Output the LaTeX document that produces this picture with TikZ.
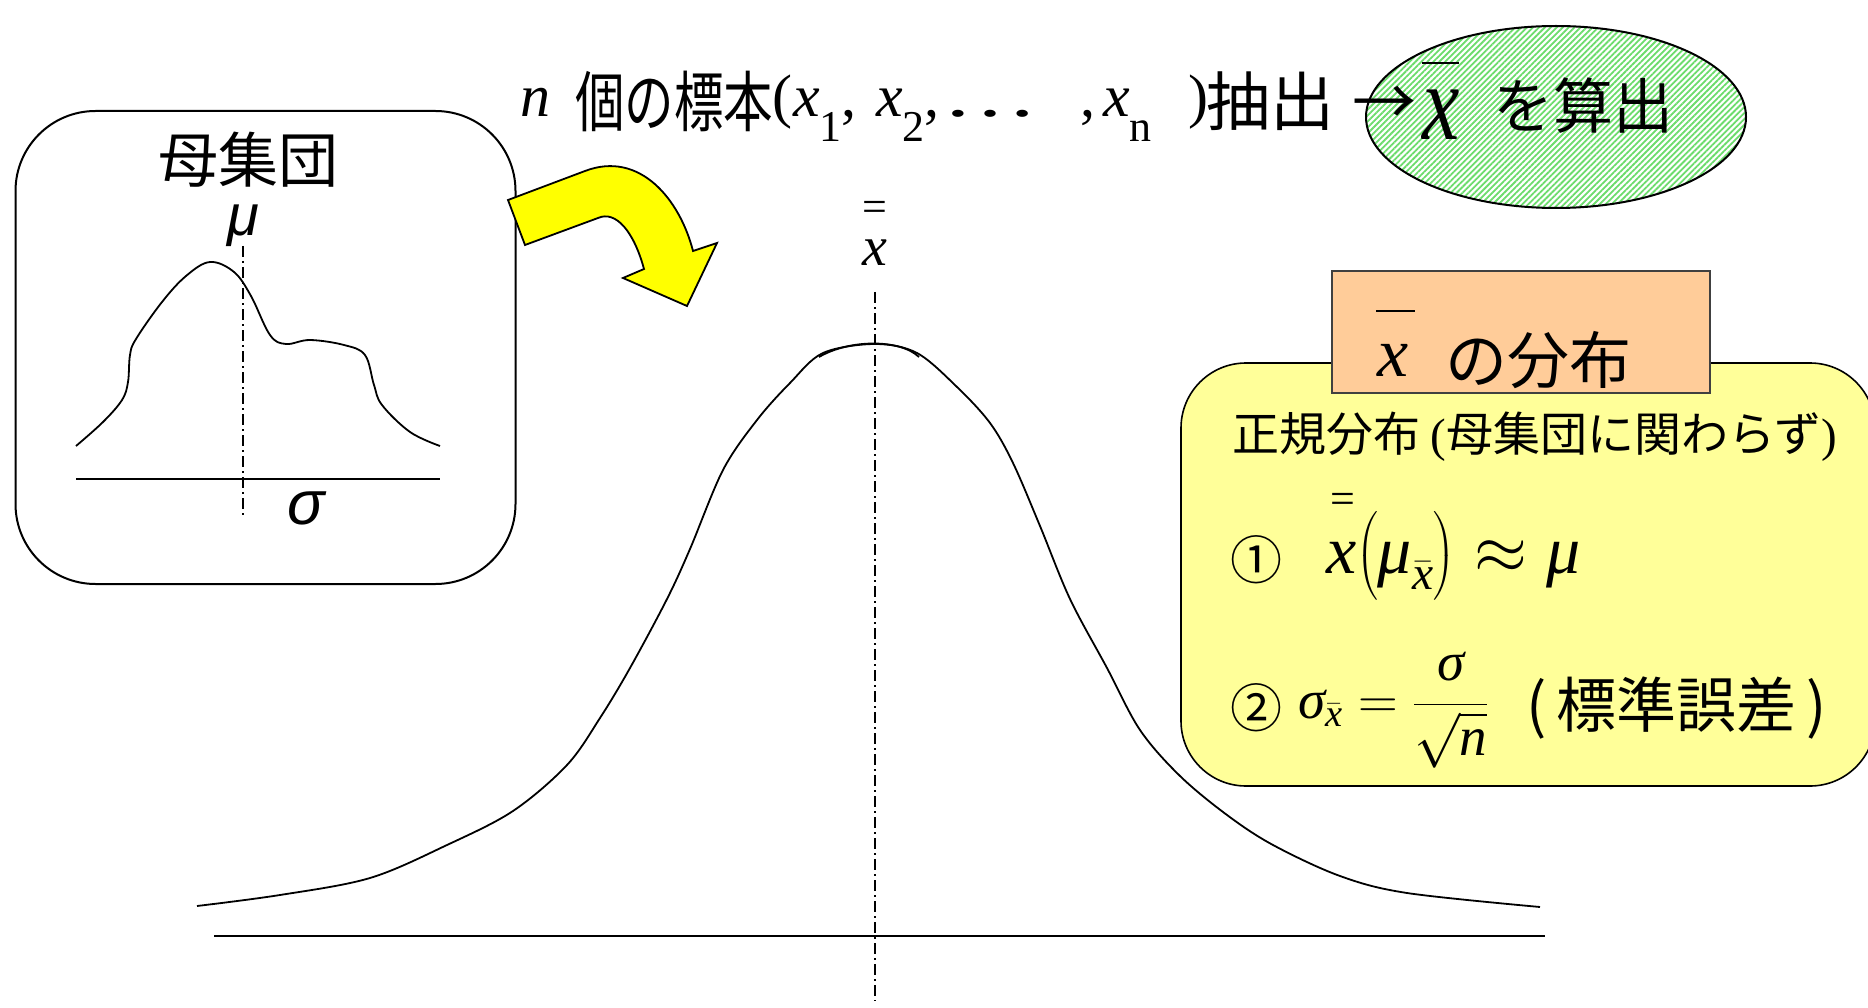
\RequirePackage{fix-cm}
\documentclass[tikz,border=0pt]{standalone}
\usepackage{amsmath}
\usepackage{graphicx}
\usepackage{fontspec}
\setmainfont{Liberation Serif}
\newfontfamily\jp{Noto Sans CJK JP}
\newfontfamily\jpc[FakeStretch=0.75]{Noto Sans CJK JP}
\newfontfamily\gr{Liberation Sans}
\usetikzlibrary{
  patterns.meta,
  positioning,
  shapes.geometric
}
\definecolor{arrowyellow}{HTML}{FFFF00}
\definecolor{notefill}{HTML}{FFFF99}
\definecolor{headfill}{HTML}{FFCC99}
\definecolor{stripe}{HTML}{6CDC6C}
\definecolor{frame}{HTML}{404040}
\newcommand{\fs}[1]{\fontsize{#1}{#1}\selectfont}
\newcommand{\sub}[1]{\raisebox{-25pt}{\fs{44}#1}}
\tikzset{
  popbox/.style={
    draw,
    line width=2pt,
    rounded corners=80pt,
    minimum width=500pt,
    minimum height=473pt
  },
  notebox/.style={
    draw,
    line width=1.6pt,
    fill=notefill,
    rounded corners=65pt,
    minimum width=694pt,
    minimum height=423pt
  },
  headbox/.style={
    draw=frame,
    line width=1.6pt,
    fill=headfill,
    minimum width=378pt,
    minimum height=122pt
  },
  calcoval/.style={
    ellipse,
    draw,
    line width=2pt,
    preaction={fill=white},
    pattern={Lines[angle=45, distance=4.2pt, line width=1.8pt]},
    pattern color=stripe,
    minimum width=380pt,
    minimum height=182pt
  },
  curve/.style={line width=1.8pt, line join=round},
  axis/.style={line width=2pt},
  centre/.style={line width=1.6pt, dash pattern=on 11pt off 4pt on 2pt off 4pt},
  bigarrow/.style={draw, line width=1.8pt, fill=arrowyellow},
  txt/.style={inner sep=0pt, outer sep=0pt},
  title/.style={txt, anchor=base west, font=\fs{60}}
}

\begin{document}
\begin{tikzpicture}[x=1pt, y=-1pt]
  \useasboundingbox (0,0) rectangle (1868,1008);

  % population box
  \node[popbox] (pop) at (265.5,347.5) {};
  \node[txt, font=\jp\fs{60}] (poptitle) at (248,160) {母集団};
  \node[txt, font=\gr\itshape\fs{58}] (popmu) at (243,226) {μ};
  \node[txt, font=\gr\itshape\fs{62}] (popsigma) at (306,508) {σ};
  \draw[centre] (243,246) -- (243,518);
  \draw[axis] (76,479) -- (440,479);
  \draw[curve] plot[smooth, tension=0.6] coordinates {
    (76,446) (103,422) (122,400) (128,382) (130,355) (136,339) (162,302)
    (186,276) (210,262) (234,272) (251,296) (270,335) (286,344) (310,340)
    (344,345) (365,355) (374,385) (382,405) (410,432) (440,446)};

  % sampling arrow
  \draw[bigarrow] (508,200) -- (585,171) .. controls (640,150) and (680,200) .. (693,251)
    -- (717,243) -- (687,306) -- (623,278) -- (644,269)
    .. controls (634,232) and (616,210) .. (598,218) -- (525,245) -- cycle;

  % sample mean
  \node[calcoval] (calc) at (1556,117) {};
  \node[title] (tn) at (520,117) {\itshape n};
  \node[txt, font=\jpc\fs{66}] (tsample) at (674,101) {個の標本};
  \node[title] (topen) at (772,117) {(};
  \node[title] (tx1) at (793,117) {\textit{x}\sub{1},};
  \node[title] (tx2) at (876,117) {\textit{x}\sub{2},};
  \node[title, anchor=base] (tdots) at (990,117) {\scalebox{1.6}[1]{…}};
  \node[title] (tcomma) at (1080,117) {,};
  \node[title] (txn) at (1103,117) {\textit{x}\sub{n}};
  \node[title] (tclose) at (1188,117) {)};
  \node[txt, font=\jp\fs{64}] (tdraw) at (1270,101) {抽出};
  \node[txt, font=\jp\fs{64}] (tto) at (1384,106) {→};
  \node[txt, font=\fs{80}] (calcx) at (1441,115) {\scalebox{1.05}[1.35]{\itshape x}};
  \node[txt] (calcbar) at (1440,63) {\rule{37pt}{2.5pt}};
  \node[txt, font=\jp\fs{60}] (calctxt) at (1583,106) {を算出};

  % distribution of the mean
  \draw[curve] plot[smooth, tension=0.55] coordinates {
    (197,906) (280,895) (370,878) (447,845) (513,811) (567,765) (600,718)
    (630,668) (667,599) (690,549) (723,470) (757,420) (790,383) (823,353)
    (875,344) (917,353) (957,387) (990,423) (1013,463) (1040,526) (1070,599)
    (1107,668) (1140,730) (1180,776) (1227,815) (1273,845) (1340,876)
    (1407,893) (1540,907)};
  \draw[curve] (819,357) .. controls (850,339) and (900,339) .. (919,357);
  \draw[axis] (214,936) -- (1545,936);
  \draw[centre] (875,292) -- (875,1001);
  \node[txt, font=\fs{44}] (meanbar) at (875,211) {=};
  \node[txt, font=\itshape\fs{56}] (meanx) at (875,252.5) {x};

  % note
  \node[notebox] (note) at (1528,574.5) {};
  \node[headbox] (head) at (1521,332) {};
  \node[txt, font=\itshape\fs{70}] (headx) at (1393,360) {x};
  \node[txt] (headbar) at (1395.5,311) {\rule{39pt}{2.5pt}};
  \node[txt, font=\jp\fs{62}] (headtxt) at (1538,360) {の分布};
  \node[txt, anchor=west, font=\jp\fs{47}] (normal) at (1232,437)
    {正規分布 {\rmfamily(}母集団に関わらず{\rmfamily)}};
  \node[txt, font=\jp\fs{52}] (one) at (1256,560) {①};
  \node[txt, anchor=base west, font=\fs{68}] (eqone) at (1326,573)
    {$\text{\itshape x}\big(\text{\itshape μ}_{\bar{\text{\itshape x}}}\big)\approx\text{\itshape μ}$};
  \node[txt, font=\fs{44}] (eqonebar) at (1343,503) {=};
  \node[txt, font=\jp\fs{52}] (two) at (1256,708) {②};
  \node[txt, anchor=base west, font=\fs{55}] (eqtwo) at (1298,718)
    {$\text{\itshape σ}_{\bar{\text{\itshape x}}}=\dfrac{\text{\itshape σ}}{\sqrt{\text{\itshape n}}}$};
  \node[txt, font=\jp\fs{60}] (stderr) at (1677,708) {(\,標準誤差\,)};
\end{tikzpicture}
\end{document}
